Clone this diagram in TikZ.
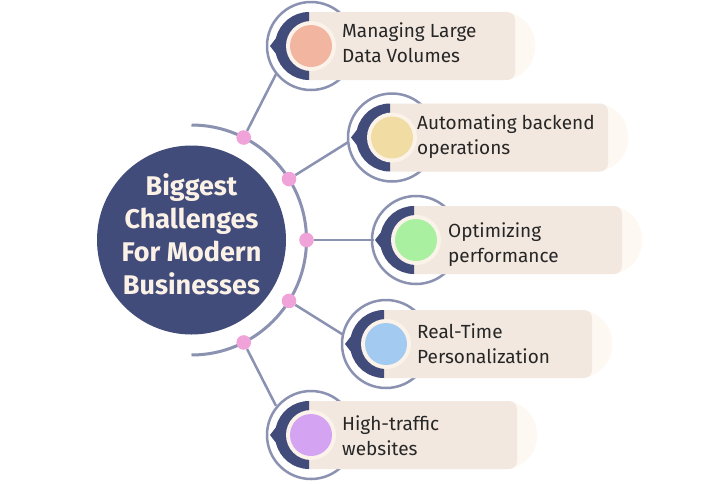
\documentclass[tikz,border=0pt]{standalone}
\usepackage{fontspec}
\setmainfont{Fira Sans}
\definecolor{navy}{HTML}{424C7A}
\definecolor{ringc}{HTML}{8A91B1}
\definecolor{dotc}{HTML}{F0A3D9}
\definecolor{boxc}{HTML}{F2E8DF}
\definecolor{ghost}{HTML}{FEF8F2}
\definecolor{gapc}{HTML}{FBF3EA}
\definecolor{cone}{HTML}{F1B5A0}
\definecolor{ctwo}{HTML}{F1DDA3}
\definecolor{cthree}{HTML}{A9F1A0}
\definecolor{cfour}{HTML}{A3CAF1}
\definecolor{cfive}{HTML}{D4A3F1}
\definecolor{titlec}{HTML}{FBF1E6}
\definecolor{txt}{HTML}{262626}
\newcommand\mkitem[5]{%
  \node[ringst] (r#1) at ({#2+2},#3) {};
  \fill[ghost,rounded corners=33pt] (#2,#3-34) rectangle (#4+20,#3+34);
  \fill[boxc] (#2,#3-34) -- (#4-8,#3-34) arc[start angle=-90,end angle=0,radius=8]
     -- (#4,#3+26) arc[start angle=0,end angle=90,radius=8] -- (#2,#3+34) -- cycle;
  \fill[navy] (#2,#3-34) arc[start angle=-90,end angle=-167,radius=34]
     -- (#2-39,#3) -- ([shift={(167:34)}]#2,#3) arc[start angle=167,end angle=90,radius=34] -- cycle;
  \fill[gapc] ({#2+2},#3) circle (25);
  \node[bulb,fill=#5] (b#1) at ({#2+2},#3) {};
}
\begin{document}
\begin{tikzpicture}[x=1pt,y=-1pt,
  arcline/.style={draw=ringc,line width=3pt},
  conn/.style={draw=ringc,line width=2.5pt},
  ringst/.style={circle,draw=ringc,line width=2.5pt,minimum size=88pt,inner sep=0pt},
  dotst/.style={circle,fill=dotc,minimum size=14.6pt,inner sep=0pt},
  hub/.style={circle,fill=navy,minimum size=189pt,inner sep=0pt},
  bulb/.style={circle,minimum size=42pt,inner sep=0pt},
  titletext/.style={font=\bfseries\fontsize{27}{33}\selectfont,text=titlec,align=center,
     inner sep=0pt,text height=118pt,text depth=10pt},
  itemtext/.style={font=\fontsize{19}{25}\selectfont,text=txt,align=left,anchor=west,
     inner sep=0pt,text height=38pt,text depth=6.6pt}]
\fill[white] (0,0) rectangle (725,483);
\useasboundingbox (0,0) rectangle (725,483);
\node[hub] (m) at (191.5,240) {};
\node[titletext] (title) at (m.center) {Biggest\\Challenges\\For Modern\\Businesses};
\draw[arcline] ([shift={(-90:115)}]m.center) arc[start angle=-90,end angle=90,radius=115];
\foreach \n/\a in {1/-63,2/-32,3/0,4/32,5/63}
  \node[dotst] (d\n) at ([shift={(\a:115)}]m.center) {};
\foreach \n/\a/\r in {1/-63/186,2/-32/185,3/0/182,4/32/179,5/63/186}
  \coordinate (e\n) at ([shift={(\a:\r)}]m.center);
\foreach \n in {1,...,5}
  \draw[conn] (d\n) -- (e\n);
\mkitem{1}{309}{46}{515}{cone}
\mkitem{2}{390}{137.5}{608}{ctwo}
\mkitem{3}{414}{240}{622}{cthree}
\mkitem{4}{384}{344}{592}{cfour}
\mkitem{5}{309}{435}{517}{cfive}
\node[itemtext] (t1) at (342,46.6) {Managing Large\\Data Volumes};
\node[itemtext] (t2) at (417,138.6) {Automating backend\\operations};
\node[itemtext] (t3) at (448,246.6) {Optimizing\\performance};
\node[itemtext] (t4) at (417,347.6) {Real-Time\\Personalization};
\node[itemtext] (t5) at (342,439.3) {High-traffic\\websites};
\end{tikzpicture}
\end{document}
